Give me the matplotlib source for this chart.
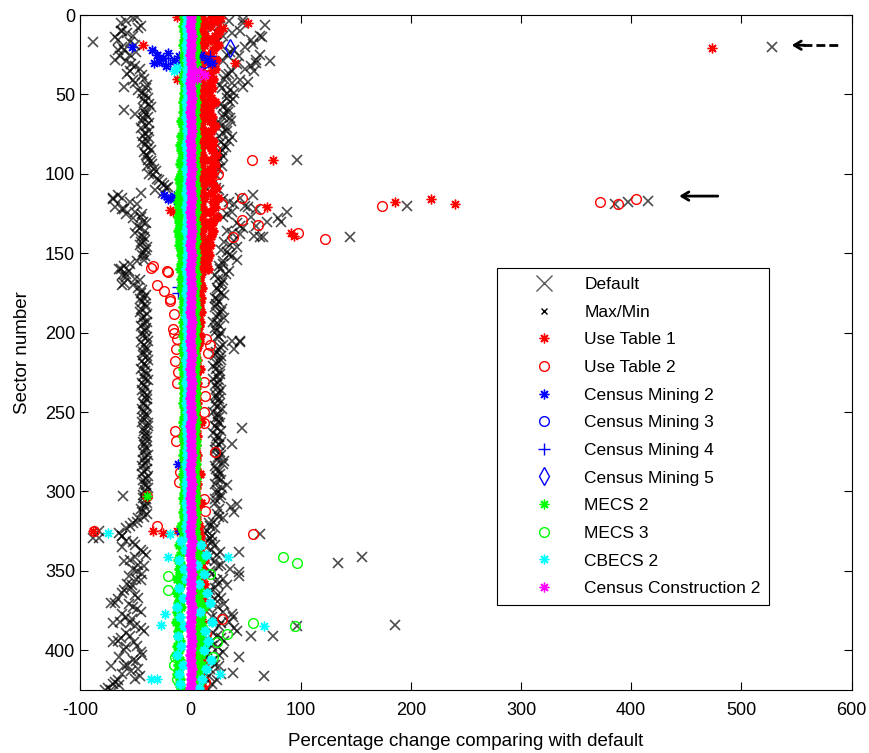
import matplotlib
matplotlib.use('Agg')
import matplotlib.pyplot as plt
from matplotlib.lines import Line2D

plt.rcParams['font.family'] = ['Liberation Sans', 'DejaVu Sans']
plt.rcParams['axes.unicode_minus'] = False

# Sectors sampled every third sector (1, 4, 7, ... 424) and the offset set (2, 5, ... 425)
sectors = list(range(1, 427, 3))
sectors2 = list(range(2, 427, 3))

# Max/Min envelope (percentage change), one row = 10 sectors
maxmin_low = [
    -48, -58, -45, -62, -52, -66, -50, -60, -55, -68,
    -54, -46, -57, -42, -50, -40, -44, -38, -41, -36,
    -42, -38, -44, -40, -37, -43, -39, -41, -36, -40,
    -38, -35, -33, -37, -30, -26, -22, -45, -62, -55,
    -68, -50, -45, -43, -48, -41, -44, -42, -46, -40,
    -44, -42, -55, -63, -58, -50, -60, -47, -45, -42,
    -44, -40, -46, -42, -39, -45, -41, -43, -38, -42,
    -40, -43, -38, -42, -45, -39, -41, -44, -40, -42,
    -41, -43, -39, -42, -40, -44, -38, -42, -41, -39,
    -42, -40, -38, -43, -41, -39, -44, -40, -42, -38,
    -40, -43, -39, -41, -44, -42, -48, -55, -83, -62,
    -58, -50, -45, -40, -55, -47, -52, -44, -49, -57,
    -54, -62, -47, -68, -52, -45, -58, -64, -50, -42,
    -55, -66, -48, -60, -44, -52, -57, -47, -62, -50,
    -70, -75]
maxmin_high = [
    22, 35, 26, 45, 30, 55, 28, 40, 33, 60,
    42, 50, 35, 31, 38, 29, 40, 33, 36, 30,
    34, 30, 37, 28, 33, 26, 35, 31, 29, 24,
    27, 22, 25, 18, 21, 17, 23, 19, 45, 35,
    52, 38, 30, 70, 45, 33, 58, 40, 36, 28,
    35, 42, 30, 27, 32, 25, 29, 24, 28, 22,
    26, 22, 28, 24, 21, 27, 23, 25, 38, 30,
    26, 22, 28, 24, 23, 27, 21, 25, 24, 26,
    23, 27, 24, 21, 26, 25, 22, 28, 24, 23,
    26, 22, 28, 24, 30, 23, 27, 25, 22, 29,
    24, 27, 22, 37, 40, 26, 21, 18, 15, 20,
    16, 22, 19, 24, 14, 28, 36, 20, 30, 25,
    22, 16, 28, 19, 25, 30, 20, 35, 26, 42,
    24, 31, 20, 15, 26, 12, 22, 18, 28, 14,
    20, 10]
maxmin_low2 = [
    -52, -63, -47, -57, -68, -55, -62, -49, -64, -58,
    -50, -55, -44, -52, -39, -47, -41, -43, -37, -42,
    -40, -43, -37, -45, -41, -38, -44, -37, -42, -39,
    -36, -39, -31, -34, -28, -24, -32, -66, -70, -48,
    -60, -44, -52, -40, -46, -50, -42, -45, -39, -43,
    -41, -48, -60, -56, -62, -46, -52, -44, -40, -46,
    -41, -45, -39, -44, -42, -40, -44, -39, -45, -40,
    -43, -39, -44, -40, -41, -43, -38, -42, -44, -39,
    -39, -42, -44, -40, -43, -38, -42, -40, -39, -43,
    -40, -43, -41, -39, -44, -42, -38, -43, -40, -41,
    -43, -40, -42, -45, -39, -47, -52, -58, -65, -88,
    -52, -62, -43, -50, -60, -42, -48, -56, -45, -53,
    -60, -50, -66, -56, -48, -62, -53, -70, -45, -58,
    -63, -51, -58, -45, -65, -49, -60, -54, -46, -66,
    -65, -72]
maxmin_high2 = [
    27, 48, 20, 38, 65, 24, 50, 36, 44, 30,
    55, 38, 32, 45, 27, 36, 33, 39, 28, 34,
    31, 36, 27, 33, 30, 38, 28, 32, 27, 30,
    24, 29, 20, 23, 16, 20, 26, 57, 30, 40,
    60, 33, 80, 42, 48, 38, 66, 31, 42, 33,
    38, 30, 26, 35, 22, 30, 27, 25, 31, 24,
    23, 29, 25, 31, 24, 22, 28, 26, 45, 27,
    23, 28, 25, 21, 27, 24, 26, 22, 28, 23,
    26, 22, 29, 25, 23, 27, 24, 21, 26, 28,
    23, 27, 25, 31, 22, 26, 24, 28, 33, 24,
    28, 22, 42, 26, 24, 30, 17, 22, 13, 18,
    20, 14, 27, 17, 22, 25, 18, 44, 24, 33,
    18, 25, 22, 31, 17, 38, 24, 28, 40, 21,
    28, 19, 25, 30, 14, 20, 26, 11, 17, 24,
    12, 16]
maxmin_extra_sector = [17, 20, 117, 118, 119, 120, 91, 124, 130, 140, 140, 6, 13, 25, 29,
                       3, 18, 60, 62, 303, 329, 328, 327, 345, 341, 384, 385, 391, 391,
                       416, 414, 351, 338, 379, 404, 425, 420, 410, 395, 383, 370, 112,
                       108, 115, 122, 125, 160, 165, 170, 205, 210, 260, 270, 42, 45,
                       35, 30, 120, 127, 133, 138, 45, 10, 22]
maxmin_extra_value = [-88, 528, 415, 397, 385, 197, 97, 88, 82, 63, 145, 68, 63, 63, 72,
                      48, 57, -60, -50, -61, -83, -62, 63, 134, 156, 186, 97, 75, 55,
                      67, 39, 44, 44, 39, 44, -77, -68, -72, -70, -55, -72, -25,
                      -20, -70, -62, -58, -65, -58, -62, 45, 40, 47, 38, 52, 48,
                      58, 60, 50, 55, 60, 45, -60, -63, -66]

# Use Table 1: band near the center, second band (first 160 sectors) and outliers
ut1_near = [
    10, 12, 9, 11, 13, 10, 12, 9, 11, 10,
    11, 9, 12, 10, 11, 13, 9, 10, 12, 11,
    10, 12, 11, 9, 13, 10, 11, 12, 9, 11,
    12, 10, 11, 13, 9, 12, 10, 11, 12, 10,
    11, 13, 10, 12, 9, 11, 10, 12, 11, 9,
    10, 8, 11, 9, 10, 8, 9, 11, 8, 10,
    9, 8, 10, 7, 9, 8, 6, 9, 8, 7,
    5, 4, 6, 4, 9, 5, 4, 6, 5, 4,
    4, 6, 5, 4, 5, 10, 4, 5, 6, 4,
    5, 4, 6, 5, 4, 5, 9, 4, 6, 5,
    4, 5, 10, 6, 4, 5, 6, 8, 7, 9,
    9, 11, 8, 10, 12, 9, 11, 8, 10, 12,
    10, 8, 11, 9, 12, 10, 8, 11, 9, 10,
    8, 10, 9, 11, 8, 10, 12, 9, 8, 10,
    9, 11]
ut1_far_sectors = list(range(1, 161, 3))
ut1_far = [
    20, 24, 18, 26, 22, 19, 25, 21, 17, 23,
    19, 22, 17, 21, 18, 20, 16, 19, 22, 18,
    17, 20, 18, 22, 19, 16, 21, 18, 20, 23,
    19, 22, 18, 21, 17, 20, 23, 19, 25, 21,
    22, 18, 24, 20, 17, 21, 19, 16, 18, 15,
    17, 15, 14, 16]
ut1_extra_sector = [1, 5, 19, 30, 40, 91, 121, 137, 139, 118, 116, 119, 21, 123, 124,
                    325, 325, 326, 325, 8, 12, 2]
ut1_extra_value = [-12, 52, -43, 41, -12, 75, 70, 91, 94, 186, 218, 240, 473, -18, -16,
                   -88, -34, -25, -12, 30, 25, 28]

# Use Table 2 (circles)
ut2_sector = [3, 5, 2, 91, 100, 97, 115, 119, 122, 129, 132, 140, 137, 141, 120, 118, 119,
              116, 158, 159, 162, 161, 170, 174, 179, 180, 188, 198, 200, 204, 210, 218,
              225, 232, 262, 268, 288, 294, 204, 208, 213, 231, 240, 250, 257, 275, 305,
              312, 303, 322, 325, 327, 380, 420, 424, 360, 370, 390, 400, 150, 145, 130,
              110, 85, 80]
ut2_value = [8, 15, 22, 56, 25, 22, 47, 29, 63, 47, 61, 39, 98, 122, 174, 372, 388,
             404, -34, -36, -20, -21, -30, -24, -18, -18, -15, -16, -15, -12, -13, -14,
             -11, -12, -14, -13, -9, -10, 14, 18, 16, 12, 13, 12, 12, 22, 12,
             13, -39, -30, -87, 57, 29, 13, 11, 10, 12, 14, 10, 12, 15, 20,
             18, 22, 19]

# Census Mining series
cm2_sector = [20, 22, 25, 27, 24, 30, 29, 32, 28, 26, 31, 25, 28, 30, 113, 115, 117, 116,
              114, 283, 325]
cm2_value = [-53, -35, -30, -25, -20, -33, -28, -22, -15, -10, -12, 10, 15, 20, -24, -18,
             -12, -20, -15, -11, -9]
cm3_sector = [28, 30]
cm3_value = [-27, 12]
cm4_sector = [23, 27, 31, 26, 33, 171, 175]
cm4_value = [-32, -20, -18, 18, -10, -11, -11]
cm5_sector = [21]
cm5_value = [36]

# MECS 2: both edges of the central band
mecs2_left = [
    -6, -5, -7, -6, -5, -6, -7, -5, -6, -6,
    -6, -5, -6, -7, -6, -5, -6, -6, -7, -6,
    -7, -6, -8, -7, -6, -8, -7, -9, -8, -7,
    -8, -9, -7, -8, -10, -9, -8, -10, -9, -11,
    -10, -9, -11, -10, -9, -11, -10, -9, -10, -8,
    -8, -7, -8, -9, -7, -8, -7, -8, -6, -7,
    -6, -7, -6, -5, -7, -6, -6, -7, -5, -6,
    -7, -6, -5, -6, -7, -6, -5, -7, -6, -6,
    -6, -7, -6, -5, -6, -7, -6, -5, -7, -6,
    -5, -6, -7, -6, -5, -6, -7, -6, -6, -5,
    -6, -7, -6, -5, -7, -6, -6, -8, -7, -6,
    -8, -10, -7, -9, -11, -8, -10, -9, -12, -8,
    -10, -12, -9, -11, -8, -12, -10, -13, -9, -11,
    -11, -9, -12, -10, -13, -9, -11, -10, -12, -9,
    -10, -8]
mecs2_right = [
    4, 5, 4, 3, 5, 4, 4, 5, 3, 4,
    5, 4, 3, 4, 5, 4, 4, 3, 5, 4,
    4, 3, 5, 4, 4, 5, 3, 4, 5, 4,
    3, 4, 5, 4, 3, 4, 5, 4, 4, 5,
    4, 5, 3, 4, 5, 4, 4, 5, 3, 4,
    5, 4, 4, 3, 5, 4, 5, 4, 3, 4,
    4, 5, 3, 4, 4, 5, 4, 3, 5, 4,
    3, 4, 5, 4, 4, 3, 5, 4, 4, 5,
    4, 4, 5, 3, 4, 5, 4, 4, 3, 5,
    5, 3, 4, 4, 5, 4, 3, 5, 4, 4,
    4, 5, 4, 3, 5, 4, 5, 4, 4, 5,
    6, 9, 5, 8, 10, 6, 7, 9, 5, 8,
    8, 11, 6, 9, 12, 7, 10, 8, 11, 6,
    9, 7, 12, 8, 10, 6, 11, 9, 7, 10,
    8, 6]
mecs2_extra_sector = [303]
mecs2_extra_value = [-39]

# MECS 3 (circles)
mecs3_sector = [341, 345, 383, 385, 353, 362, 404, 409, 418, 352, 390, 395, 404, 370, 400]
mecs3_value = [84, 97, 57, 95, -20, -20, -14, -15, -12, 18, 33, 24, 21, -10, 10]

# CBECS 2
cbecs2 = [
    -3, -2, -4, -3, -3, -2, -4, -3, -2, -3,
    -2, -3, -3, -4, -2, -3, -3, -2, -4, -3,
    -3, -4, -2, -3, -3, -2, -3, -4, -3, -2,
    -3, -2, -4, -3, -2, -3, -3, -4, -2, -3,
    -4, -3, -2, -3, -3, -4, -2, -3, -3, -2,
    -3, -3, -2, -4, -3, -2, -3, -3, -4, -2,
    -2, -3, -3, -4, -2, -3, -3, -2, -3, -4,
    -3, -2, -4, -3, -3, -2, -3, -4, -2, -3,
    -3, -4, -2, -3, -2, -3, -4, -3, -3, -2,
    -2, -3, -3, -2, -4, -3, -2, -3, -4, -3,
    -3, -2, -4, -3, -3, -2, -3, -4, -3, -2,
    -8, 10, -5, 14, -10, 6, -6, 12, -4, 8,
    -10, 15, -7, 18, -12, 9, -9, 20, -6, 13,
    -11, 16, -8, 12, -12, 19, -7, 14, -10, 11,
    -9, 8]
cbecs2_extra_sector = [326, 327, 341, 341, 377, 384, 385, 415, 418, 418, 33, 35]
cbecs2_extra_value = [-75, -18, -20, 34, -23, -27, 67, 27, -30, -36, -12, -15]

# Census Construction 2
cc2 = [
    1, 1, 0, 1, 2, 1, 1, 1, 0, 1,
    1, 2, 1, 1, 0, 1, 1, 2, 1, 1,
    0, 1, 1, 1, 2, 1, 0, 1, 1, 1,
    1, 1, 2, 1, 1, 0, 1, 1, 2, 1,
    1, 0, 1, 1, 1, 2, 1, 1, 0, 1,
    2, 1, 1, 0, 1, 1, 1, 2, 1, 1,
    1, 1, 0, 1, 2, 1, 1, 1, 0, 1,
    1, 2, 1, 1, 0, 1, 1, 2, 1, 1,
    0, 1, 1, 1, 2, 1, 0, 1, 1, 1,
    1, 1, 2, 1, 1, 0, 1, 1, 2, 1,
    1, 0, 1, 1, 1, 2, 1, 1, 0, 1,
    2, 1, 1, 0, 1, 1, 1, 2, 1, 1,
    1, 1, 0, 1, 2, 1, 1, 1, 0, 1,
    1, 2, 1, 1, 0, 1, 1, 2, 1, 1,
    1, 0]
cc2_extra_sector = [35, 38, 40, 36]
cc2_extra_value = [8, 13, 6, 3]

star = (8, 2, 0)
fig = plt.figure(figsize=(8.7, 7.53), dpi=100)
ax = fig.add_axes([0.092, 0.0837, 0.887, 0.8963])

mm = dict(color='k', ls='none', marker='x', ms=6.5, mew=1.2, alpha=0.7)
ax.plot(maxmin_low, sectors, **mm)
ax.plot(maxmin_high, sectors, **mm)
ax.plot(maxmin_low2, sectors2, **mm)
ax.plot(maxmin_high2, sectors2, **mm)
ax.plot(maxmin_extra_value, maxmin_extra_sector, **mm)

st = dict(ls='none', marker=star, ms=7, mew=1.0)
band = dict(ls='none', marker=star, ms=7, mew=1.6)
ci = dict(ls='none', marker='o', ms=7, mew=1.0, mfc='none')
ax.plot(ut1_near, sectors, color='r', **band)
ax.plot(ut1_far, ut1_far_sectors, color='r', **band)
ax.plot(ut1_extra_value, ut1_extra_sector, color='r', **st)
ax.plot(ut2_value, ut2_sector, color='r', mec='r', **ci)
ax.plot(cm2_value, cm2_sector, color='b', **st)
ax.plot(cm3_value, cm3_sector, color='b', mec='b', **ci)
ax.plot(cm4_value, cm4_sector, color='b', ls='none', marker='+', ms=8, mew=1.0)
ax.plot(cm5_value, cm5_sector, color='b', ls='none', marker='d', ms=9, mew=1.0, mfc='none')
ax.plot(mecs2_left, sectors, color='#00ff00', **band)
ax.plot(mecs2_right, sectors, color='#00ff00', **band)
ax.plot(mecs2_extra_value, mecs2_extra_sector, color='#00ff00', **st)
ax.plot(mecs3_value, mecs3_sector, color='#00ff00', mec='#00ff00', **ci)
ax.plot(cbecs2, sectors, color='cyan', **band)
ax.plot(cbecs2_extra_value, cbecs2_extra_sector, color='cyan', **st)
ax.plot(cc2, sectors, color='magenta', **band)
ax.plot(cc2_extra_value, cc2_extra_sector, color='magenta', **st)

ax.set_xlim(-100, 600)
ax.set_ylim(425, 0)
ax.set_xticks(range(-100, 601, 100))
ax.set_yticks(range(0, 401, 50))
ax.tick_params(direction='in', top=True, right=True, length=6, labelsize=13)
ax.tick_params(axis='x', pad=9)
ax.set_xlabel('Percentage change comparing with default', fontsize=13.5, labelpad=10)
ax.set_ylabel('Sector number', fontsize=13.5, labelpad=10)

# arrows pointing to the outliers
ax.annotate('', xy=(543, 19), xytext=(560, 19),
            arrowprops=dict(arrowstyle='->,head_length=0.5,head_width=0.3', lw=2, color='k'))
ax.plot([556, 589], [19, 19], color='k', lw=2, dashes=(3.2, 1.45))
ax.annotate('', xy=(441, 114), xytext=(481, 114),
            arrowprops=dict(arrowstyle='->,head_length=0.5,head_width=0.3', lw=2, color='k'))

handles = [
    Line2D([], [], ls='none', marker='x', ms=11, mew=1.0, color='0.35'),
    Line2D([], [], ls='none', marker='x', ms=5, mew=1.0, color='k'),
    Line2D([], [], ls='none', marker=star, ms=7, color='r'),
    Line2D([], [], ls='none', marker='o', ms=7, mfc='none', mec='r'),
    Line2D([], [], ls='none', marker=star, ms=7, color='b'),
    Line2D([], [], ls='none', marker='o', ms=7, mfc='none', mec='b'),
    Line2D([], [], ls='none', marker='+', ms=9, color='b'),
    Line2D([], [], ls='none', marker='d', ms=9, mfc='none', mec='b'),
    Line2D([], [], ls='none', marker=star, ms=7, color='#00ff00'),
    Line2D([], [], ls='none', marker='o', ms=7, mfc='none', mec='#00ff00'),
    Line2D([], [], ls='none', marker=star, ms=7, color='cyan'),
    Line2D([], [], ls='none', marker=star, ms=7, color='magenta'),
]
labels = ['Default', 'Max/Min', 'Use Table 1', 'Use Table 2', 'Census Mining 2',
          'Census Mining 3', 'Census Mining 4', 'Census Mining 5', 'MECS 2', 'MECS 3',
          'CBECS 2', 'Census Construction 2']
leg = ax.legend(handles, labels, loc='upper left', bbox_to_anchor=(0.540, 0.625),
                borderaxespad=0, fontsize=12.5, frameon=True, fancybox=False,
                edgecolor='k', framealpha=1, labelspacing=0.72, handlelength=4.5,
                handletextpad=0.05, borderpad=0.5)
leg.get_frame().set_linewidth(0.8)

plt.savefig('out.png', dpi=100)
